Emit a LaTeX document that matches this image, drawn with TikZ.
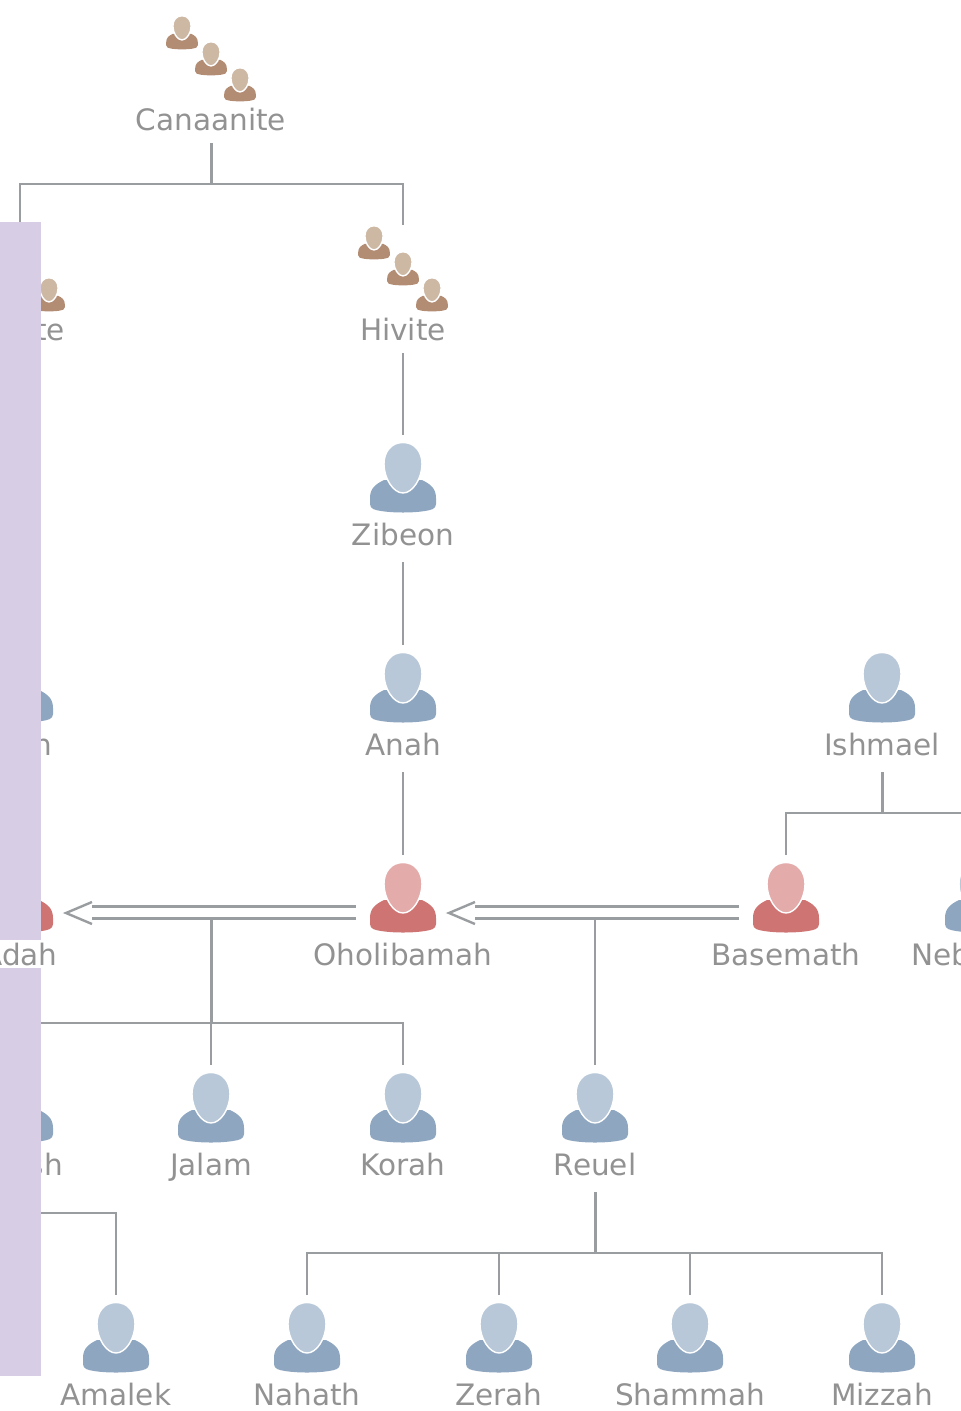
\documentclass[tikz,border=0pt]{standalone}
\usepackage{fontspec}
\setmainfont{DejaVu Sans}
\definecolor{line grey}{HTML}{9A9DA0}
\definecolor{text grey}{HTML}{929292}
\definecolor{band}{HTML}{D7CDE5}
\definecolor{male head}{HTML}{B8C8D8}
\definecolor{male body}{HTML}{8FA6C0}
\definecolor{female head}{HTML}{E3ABAA}
\definecolor{female body}{HTML}{CE7473}
\definecolor{tribe head}{HTML}{CDB8A4}
\definecolor{tribe body}{HTML}{B28C73}
\tikzset{
  pics/person/.style 2 args={code={
    \fill[#2] (-33,55) .. controls (-33,45) and (-27,41) .. (-19,37) -- (19,37)
      .. controls (27,41) and (33,45) .. (33,55) -- (33,61)
      .. controls (33,66) and (28,67) .. (22,68) .. controls (10,70) and (-10,70) .. (-22,68)
      .. controls (-28,67) and (-33,66) .. (-33,61) -- cycle;
    \filldraw[fill=#1, draw=white, line width=1.4pt] (0,-0.5) .. controls (12,-0.5) and (19,9) .. (19,21)
      .. controls (19,35) and (10,50) .. (0,50) .. controls (-10,50) and (-19,35) .. (-19,21)
      .. controls (-19,9) and (-12,-0.5) .. (0,-0.5) -- cycle;
  }},
  personname/.style={anchor=base, inner sep=0pt, text=text grey, font=\fontsize{29.5}{32}\selectfont, text depth=17pt},
  tribename/.style={personname, text depth=13pt},
  fragment/.style={personname, anchor=base east},
}
\tikzstyle{edge} = [draw, line width=2.4pt, -, line grey]
\tikzstyle{trunk} = [draw, line width=3pt, -, line grey]
\tikzstyle{marriage} = [draw, line width=2.2pt, double=white, double distance=9.8pt, -, line grey]
\def\tribes{{211/16/canaanite/Canaanite}, {403/226/hivite/Hivite}}
\def\men{{403/443/zibeon/Zibeon}, {403/653/anah/Anah}, {882/653/ishmael/Ishmael}, {211/1073/jalam/Jalam}, {403/1073/korah/Korah}, {595/1073/reuel/Reuel}, {116/1303/amalek/Amalek}, {307/1303/nahath/Nahath}, {499/1303/zerah/Zerah}, {690/1303/shammah/Shammah}, {882/1303/mizzah/Mizzah}}
\def\women{{403/863/oholibamah/Oholibamah}, {786/863/basemath/Basemath}}
\def\cutmen{{20/653/elon}, {20/1073/jeush}, {978/863/nebaioth}}
\begin{document}
\begin{tikzpicture}[x=1pt,y=-1pt]

    \useasboundingbox (0,0) rectangle (961,1411);
    \clip (0,0) rectangle (961,1411);

    % The tribes
    \foreach \x/\y/\name/\text in \tribes {
      \pic[scale=.48] at (\x-29,\y) {person={tribe head}{tribe body}};
      \pic[scale=.48] at (\x,\y+26) {person={tribe head}{tribe body}};
      \pic[scale=.48] at (\x+29,\y+52) {person={tribe head}{tribe body}};
      \coordinate (\name-top) at (\x,\y-1);
      \node[tribename] (\name) at (\x,\y+114) {\text};
    }
    \pic[scale=.48] at (49,278) {person={tribe head}{tribe body}};
    \coordinate (hittite-top) at (20,225);

    % The people
    \foreach \x/\y/\name/\text in \men {
      \pic at (\x,\y) {person={male head}{male body}};
      \coordinate (\name-top) at (\x,\y-8);
      \node[personname] (\name) at (\x,\y+102) {\text};
    }
    \foreach \x/\y/\name/\text in \women {
      \pic at (\x,\y) {person={female head}{female body}};
      \coordinate (\name-top) at (\x,\y-8);
      \node[personname] (\name) at (\x,\y+102) {\text};
    }
    \foreach \x/\y/\name in \cutmen {
      \pic at (\x,\y) {person={male head}{male body}};
      \coordinate (\name-top) at (\x,\y-8);
    }
    \pic at (20,863) {person={female head}{female body}};

    % The connections between them
    \foreach \source/\sink in {hivite/zibeon, zibeon/anah, anah/oholibamah}
      \path[edge] (\source.south) -- (\sink-top);

    % The brackets
    \coordinate (canaanite-bar) at (211,184);
    \coordinate (ishmael-bar) at (882,813);
    \coordinate (reuel-bar) at (595,1253);
    \coordinate (marriage-bar) at (211,1023);
    \coordinate (amalek-left) at (0,1213);
    \path[trunk] (canaanite.south) -- (canaanite-bar);
    \path[edge] (hittite-top) |- (canaanite-bar) -| (hivite-top);
    \path[trunk] (ishmael.south) -- (ishmael-bar);
    \path[edge] (basemath-top) |- (ishmael-bar) -| (nebaioth-top);
    \path[trunk] (reuel.south) -- (reuel-bar);
    \path[edge] (nahath-top) |- (reuel-bar) -| (mizzah-top);
    \foreach \sink in {zerah, shammah}
      \path[edge] (\sink-top) |- (reuel-bar);
    \path[edge] (amalek-left) -| (amalek-top);

    % The marriages
    \coordinate (oholibamah-right) at (356,912.5);
    \coordinate (adah-shaft) at (92,912.5);
    \coordinate (adah-tip) at (66,913);
    \coordinate (basemath-left) at (739,912.5);
    \coordinate (oholibamah-shaft) at (475,912.5);
    \coordinate (oholibamah-tip) at (449,913);
    \coordinate (adah-join) at (211,918);
    \coordinate (basemath-join) at (595,918);
    \path[marriage] (oholibamah-right) -- (adah-shaft);
    \path[marriage] (basemath-left) -- (oholibamah-shaft);
    \foreach \tip in {adah-tip, oholibamah-tip}
      \path[edge] ([shift={(26,-11)}]\tip) -- (\tip) -- ([shift={(26,11)}]\tip);

    % The children
    \path[trunk] (adah-join) -- (marriage-bar);
    \path[edge] (marriage-bar) -- (jalam-top);
    \path[edge] (jeush-top) |- (marriage-bar) -| (korah-top);
    \path[edge] (basemath-join) -- (reuel-top);

    % The names that are cut off
    \node[fragment] (hittite-end) at (65,340) {te};
    \node[fragment] (elon-end) at (52,755) {n};
    \node[fragment] (jeush-end) at (63,1175) {sh};
    \node[personname, anchor=base west] (nebaioth-start) at (911,965) {Neb};

    % The band
    \fill[band] (0,222) rectangle (41,940);
    \fill[band] (0,968) rectangle (41,1376);
    \node[personname] (adah-name) at (20,965) {Adah};

\end{tikzpicture}
\end{document}
